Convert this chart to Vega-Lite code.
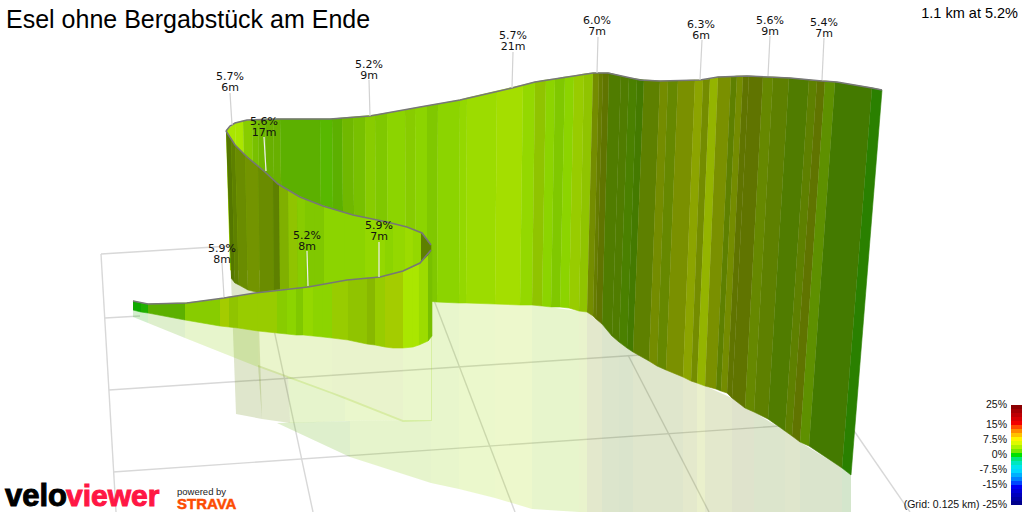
{
  "$schema": "https://vega.github.io/schema/vega-lite/v6.json",
  "width": 1024,
  "height": 512,
  "padding": 0,
  "autosize": "none",
  "background": "white",
  "config": {
    "view": {"stroke": null},
    "range": {"category": ["#507c00","#4a8000","#447a00","#2a8000","#10a800","#20b000","#5e9000","#667c00","#aae600","#a4de00","#9cdc00","#94d800","#8cd400","#88cc00","#80c800","#78c000","#70b800","#68b000","#5cb000","#58b800","#98cc00","#90c400","#88b800","#a4cc00","#94b400","#8ca400","#7a9000","#748c00","#668800","#5e8000","#607400","#557700","#739400","#6a8c00","#80b000"]}
  },
  "datasets": {
    "grid": [
      {"x":101,"y":254,"x2":230,"y2":246},
      {"x":101,"y":254,"x2":116,"y2":512},
      {"x":105,"y":318,"x2":140,"y2":316},
      {"x":109,"y":390,"x2":640,"y2":355},
      {"x":113,"y":472,"x2":780,"y2":426},
      {"x":258,"y":255,"x2":313,"y2":512},
      {"x":432,"y":295,"x2":515,"y2":512},
      {"x":628,"y":355,"x2":709,"y2":512},
      {"x":850,"y":425,"x2":910,"y2":512}
    ],
    "shadow": [
      {"id":1,"tone":"L11","x":[277,350,350,277],"y":[423,421,457,423],"o":[0,1,2,3]},
      {"id":2,"tone":"L07","x":[350,431,431,350],"y":[421,420,483,457],"o":[0,1,2,3]},
      {"id":3,"tone":"L05","x":[431,459,459,431],"y":[300,303,489,483],"o":[0,1,2,3]},
      {"id":4,"tone":"L03","x":[459,495,495,459],"y":[303,304,498,489],"o":[0,1,2,3]},
      {"id":5,"tone":"L02","x":[495,532,532,495],"y":[304,305,509,498],"o":[0,1,2,3]},
      {"id":6,"tone":"L06","x":[532,579,579,532],"y":[305,311,512,509],"o":[0,1,2,3]},
      {"id":7,"tone":"L14","x":[579,587,587,579],"y":[311,312,512,512],"o":[0,1,2,3]},
      {"id":8,"tone":"O04","x":[587,602,602,587],"y":[312,324,512,512],"o":[0,1,2,3]},
      {"id":9,"tone":"G01","x":[602,619,619,602],"y":[324,342,512,512],"o":[0,1,2,3]},
      {"id":10,"tone":"G03","x":[619,633,633,619],"y":[342,352,512,512],"o":[0,1,2,3]},
      {"id":11,"tone":"O06","x":[633,683,683,633],"y":[352,377,512,512],"o":[0,1,2,3]},
      {"id":12,"tone":"O03","x":[683,697,697,683],"y":[377,383,512,512],"o":[0,1,2,3]},
      {"id":13,"tone":"O01","x":[697,705,705,697],"y":[383,386,512,512],"o":[0,1,2,3]},
      {"id":14,"tone":"O04","x":[705,732,732,705],"y":[386,398,512,512],"o":[0,1,2,3]},
      {"id":15,"tone":"O07","x":[732,754,754,732],"y":[398,412,512,512],"o":[0,1,2,3]},
      {"id":16,"tone":"G01","x":[754,785,785,754],"y":[412,431,512,512],"o":[0,1,2,3]},
      {"id":17,"tone":"O06","x":[785,800,800,785],"y":[431,442,512,512],"o":[0,1,2,3]},
      {"id":18,"tone":"G03","x":[800,842,842,800],"y":[442,468,512,512],"o":[0,1,2,3]},
      {"id":19,"tone":"G04","x":[842,851,851,842],"y":[468,475,512,512],"o":[0,1,2,3]},
      {"id":20,"tone":"O06","x":[231,258,262,236],"y":[278,293,419,414],"o":[0,1,2,3]},
      {"id":21,"tone":"O10","x":[258,288,290,262],"y":[365,376,423,419],"o":[0,1,2,3]},
      {"id":22,"tone":"L07","x":[288,345,345,290],"y":[376,397,421,423],"o":[0,1,2,3]},
      {"id":23,"tone":"L04","x":[345,403,431,345],"y":[397,420,420,421],"o":[0,1,2,3]},
      {"id":24,"tone":"G06","x":[133,148,148,133],"y":[310,313,323,317],"o":[0,1,2,3]},
      {"id":25,"tone":"L11","x":[148,185,185,148],"y":[313,320,338,323],"o":[0,1,2,3]},
      {"id":26,"tone":"L06","x":[185,258,258,185],"y":[320,331,367,338],"o":[0,1,2,3]},
      {"id":27,"tone":"L13","x":[258,332,332,258],"y":[331,338,394,367],"o":[0,1,2,3]},
      {"id":28,"tone":"L14","x":[332,403,403,332],"y":[338,348,422,394],"o":[0,1,2,3]},
      {"id":29,"tone":"L04","x":[403,432,432,403],"y":[348,336,421,422],"o":[0,1,2,3]}
    ],
    "strips": [
      {"part":"back","id":1,"tone":"L01","x":[226,235,239,230],"y":[131,123,270,270],"o":[0,1,2,3]},
      {"part":"back","id":2,"tone":"L01","x":[235,243,246,239],"y":[123,121,270,270],"o":[0,1,2,3]},
      {"part":"back","id":3,"tone":"L06","x":[243,252,255,246],"y":[121,120,270,270],"o":[0,1,2,3]},
      {"part":"back","id":4,"tone":"L08","x":[252,258,261,255],"y":[120,120,270,270],"o":[0,1,2,3]},
      {"part":"back","id":5,"tone":"L09","x":[258,265,268,261],"y":[120,119,300,270],"o":[0,1,2,3]},
      {"part":"back","id":6,"tone":"L10","x":[265,273,276,268],"y":[119,119,300,300],"o":[0,1,2,3]},
      {"part":"back","id":7,"tone":"L10","x":[273,280,283,276],"y":[119,119,300,300],"o":[0,1,2,3]},
      {"part":"back","id":8,"tone":"L11","x":[280,320,322,283],"y":[119,119,300,300],"o":[0,1,2,3]},
      {"part":"back","id":9,"tone":"L12","x":[320,332,334,322],"y":[119,119,300,300],"o":[0,1,2,3]},
      {"part":"back","id":10,"tone":"L11","x":[332,342,344,334],"y":[119,118,300,300],"o":[0,1,2,3]},
      {"part":"back","id":11,"tone":"L09","x":[342,353,355,344],"y":[118,117,300,300],"o":[0,1,2,3]},
      {"part":"back","id":12,"tone":"L08","x":[353,365,366,355],"y":[117,116,300,300],"o":[0,1,2,3]},
      {"part":"back","id":13,"tone":"L06","x":[365,375,376,366],"y":[116,115,300,300],"o":[0,1,2,3]},
      {"part":"back","id":14,"tone":"L07","x":[375,387,388,376],"y":[115,113,300,300],"o":[0,1,2,3]},
      {"part":"back","id":15,"tone":"L05","x":[387,405,406,388],"y":[113,110,300,300],"o":[0,1,2,3]},
      {"part":"back","id":16,"tone":"L06","x":[405,415,416,406],"y":[110,108,300,300],"o":[0,1,2,3]},
      {"part":"back","id":17,"tone":"L05","x":[415,427,427,416],"y":[108,106,301,300],"o":[0,1,2,3]},
      {"part":"back","id":18,"tone":"L07","x":[427,438,437,427],"y":[106,104,302,301],"o":[0,1,2,3]},
      {"part":"back","id":19,"tone":"L05","x":[438,460,459,437],"y":[104,100,303,302],"o":[0,1,2,3]},
      {"part":"back","id":20,"tone":"L04","x":[460,467,466,459],"y":[100,98,303,303],"o":[0,1,2,3]},
      {"part":"back","id":21,"tone":"L03","x":[467,497,495,466],"y":[98,91,304,303],"o":[0,1,2,3]},
      {"part":"back","id":22,"tone":"L02","x":[497,523,520,495],"y":[91,85,305,304],"o":[0,1,2,3]},
      {"part":"back","id":23,"tone":"L04","x":[523,535,532,520],"y":[85,82,305,305],"o":[0,1,2,3]},
      {"part":"back","id":24,"tone":"L14","x":[535,546,542,532],"y":[82,80,306,305],"o":[0,1,2,3]},
      {"part":"back","id":25,"tone":"L05","x":[546,555,551,542],"y":[80,79,307,306],"o":[0,1,2,3]},
      {"part":"back","id":26,"tone":"L07","x":[555,565,560,551],"y":[79,77,307,307],"o":[0,1,2,3]},
      {"part":"back","id":27,"tone":"L05","x":[565,574,569,560],"y":[77,76,308,307],"o":[0,1,2,3]},
      {"part":"back","id":28,"tone":"L13","x":[574,584,579,569],"y":[76,74,311,308],"o":[0,1,2,3]},
      {"part":"back","id":29,"tone":"L14","x":[584,593,587,579],"y":[74,73,312,311],"o":[0,1,2,3]},
      {"part":"back","id":30,"tone":"O04","x":[593,599,593,587],"y":[73,73,316,312],"o":[0,1,2,3]},
      {"part":"back","id":31,"tone":"G08","x":[599,603,596,593],"y":[73,73,319,316],"o":[0,1,2,3]},
      {"part":"back","id":32,"tone":"O07","x":[603,609,602,596],"y":[73,73,324,319],"o":[0,1,2,3]},
      {"part":"back","id":33,"tone":"G01","x":[609,621,612,602],"y":[73,76,336,324],"o":[0,1,2,3]},
      {"part":"back","id":34,"tone":"G01","x":[621,629,619,612],"y":[76,78,342,336],"o":[0,1,2,3]},
      {"part":"back","id":35,"tone":"G02","x":[629,637,627,619],"y":[78,79,348,342],"o":[0,1,2,3]},
      {"part":"back","id":36,"tone":"G03","x":[637,644,633,627],"y":[79,80,352,348],"o":[0,1,2,3]},
      {"part":"back","id":37,"tone":"O06","x":[644,660,649,633],"y":[80,81,361,352],"o":[0,1,2,3]},
      {"part":"back","id":38,"tone":"O04","x":[660,668,657,649],"y":[81,81,366,361],"o":[0,1,2,3]},
      {"part":"back","id":39,"tone":"O05","x":[668,678,666,657],"y":[81,81,370,366],"o":[0,1,2,3]},
      {"part":"back","id":40,"tone":"O03","x":[678,695,683,666],"y":[81,80,377,370],"o":[0,1,2,3]},
      {"part":"back","id":41,"tone":"O02","x":[695,703,691,683],"y":[80,80,381,377],"o":[0,1,2,3]},
      {"part":"back","id":42,"tone":"O04","x":[703,710,697,691],"y":[80,79,383,381],"o":[0,1,2,3]},
      {"part":"back","id":43,"tone":"O01","x":[710,718,705,697],"y":[79,77,386,383],"o":[0,1,2,3]},
      {"part":"back","id":44,"tone":"O03","x":[718,731,716,705],"y":[77,77,389,386],"o":[0,1,2,3]},
      {"part":"back","id":45,"tone":"O06","x":[731,737,721,716],"y":[77,76,391,389],"o":[0,1,2,3]},
      {"part":"back","id":46,"tone":"O04","x":[737,743,727,721],"y":[76,76,393,391],"o":[0,1,2,3]},
      {"part":"back","id":47,"tone":"O07","x":[743,749,732,727],"y":[76,76,398,393],"o":[0,1,2,3]},
      {"part":"back","id":48,"tone":"O07","x":[749,763,745,732],"y":[76,77,408,398],"o":[0,1,2,3]},
      {"part":"back","id":49,"tone":"O05","x":[763,773,754,745],"y":[77,77,412,408],"o":[0,1,2,3]},
      {"part":"back","id":50,"tone":"O06","x":[773,789,768,754],"y":[77,78,419,412],"o":[0,1,2,3]},
      {"part":"back","id":51,"tone":"G01","x":[789,809,785,768],"y":[78,80,431,419],"o":[0,1,2,3]},
      {"part":"back","id":52,"tone":"O06","x":[809,817,792,785],"y":[80,81,436,431],"o":[0,1,2,3]},
      {"part":"back","id":53,"tone":"O07","x":[817,825,800,792],"y":[81,81,442,436],"o":[0,1,2,3]},
      {"part":"back","id":54,"tone":"G07","x":[825,835,809,800],"y":[81,82,446,442],"o":[0,1,2,3]},
      {"part":"back","id":55,"tone":"G03","x":[835,872,842,809],"y":[82,88,468,446],"o":[0,1,2,3]},
      {"part":"back","id":56,"tone":"G04","x":[872,882,851,842],"y":[88,90,475,468],"o":[0,1,2,3]},

      {"part":"middle","id":101,"tone":"O08","x":[226,231,235,231],"y":[131,139,283,278],"o":[0,1,2,3]},
      {"part":"middle","id":102,"tone":"O06","x":[231,235,239,235],"y":[139,145,285,283],"o":[0,1,2,3]},
      {"part":"middle","id":103,"tone":"O10","x":[235,245,248,239],"y":[145,155,290,285],"o":[0,1,2,3]},
      {"part":"middle","id":104,"tone":"O09","x":[245,258,260,248],"y":[155,166,293,290],"o":[0,1,2,3]},
      {"part":"middle","id":105,"tone":"O10","x":[258,273,274,260],"y":[166,180,293,293],"o":[0,1,2,3]},
      {"part":"middle","id":106,"tone":"O06","x":[273,279,280,274],"y":[180,185,292,293],"o":[0,1,2,3]},
      {"part":"middle","id":107,"tone":"O11","x":[279,288,289,280],"y":[185,190,290,292],"o":[0,1,2,3]},
      {"part":"middle","id":108,"tone":"L14","x":[288,297,298,289],"y":[190,195,290,290],"o":[0,1,2,3]},
      {"part":"middle","id":109,"tone":"L06","x":[297,305,305,298],"y":[195,199,289,290],"o":[0,1,2,3]},
      {"part":"middle","id":110,"tone":"L07","x":[305,315,315,305],"y":[199,203,287,289],"o":[0,1,2,3]},
      {"part":"middle","id":111,"tone":"L07","x":[315,324,324,315],"y":[203,206,285,287],"o":[0,1,2,3]},
      {"part":"middle","id":112,"tone":"L05","x":[324,345,345,324],"y":[206,213,282,285],"o":[0,1,2,3]},
      {"part":"middle","id":113,"tone":"L05","x":[345,365,365,345],"y":[213,218,280,282],"o":[0,1,2,3]},
      {"part":"middle","id":114,"tone":"L04","x":[365,385,385,365],"y":[218,222,277,280],"o":[0,1,2,3]},
      {"part":"middle","id":115,"tone":"L05","x":[385,393,393,385],"y":[222,223,275,277],"o":[0,1,2,3]},
      {"part":"middle","id":116,"tone":"L04","x":[393,405,405,393],"y":[223,226,272,275],"o":[0,1,2,3]},
      {"part":"middle","id":117,"tone":"L03","x":[405,413,413,405],"y":[226,229,268,272],"o":[0,1,2,3]},
      {"part":"middle","id":118,"tone":"L04","x":[413,421,421,413],"y":[229,233,263,268],"o":[0,1,2,3]},
      {"part":"middle","id":119,"tone":"O06","x":[421,431,431,421],"y":[233,245,252,263],"o":[0,1,2,3]},

      {"part":"front","id":201,"tone":"G05","x":[133,141,141,133],"y":[301,303,312,310],"o":[0,1,2,3]},
      {"part":"front","id":202,"tone":"G06","x":[141,148,148,141],"y":[303,304,313,312],"o":[0,1,2,3]},
      {"part":"front","id":203,"tone":"L11","x":[148,185,185,148],"y":[304,303,320,313],"o":[0,1,2,3]},
      {"part":"front","id":204,"tone":"L06","x":[185,220,220,185],"y":[303,299,326,320],"o":[0,1,2,3]},
      {"part":"front","id":205,"tone":"L16","x":[220,229,229,220],"y":[299,297,327,326],"o":[0,1,2,3]},
      {"part":"front","id":206,"tone":"L14","x":[229,238,238,229],"y":[297,296,328,327],"o":[0,1,2,3]},
      {"part":"front","id":207,"tone":"L13","x":[238,258,258,238],"y":[296,293,331,328],"o":[0,1,2,3]},
      {"part":"front","id":208,"tone":"L13","x":[258,277,277,258],"y":[293,290,333,331],"o":[0,1,2,3]},
      {"part":"front","id":209,"tone":"L06","x":[277,287,287,277],"y":[290,289,334,333],"o":[0,1,2,3]},
      {"part":"front","id":210,"tone":"L05","x":[287,296,296,287],"y":[289,288,335,334],"o":[0,1,2,3]},
      {"part":"front","id":211,"tone":"L07","x":[296,303,303,296],"y":[288,288,335,335],"o":[0,1,2,3]},
      {"part":"front","id":212,"tone":"L04","x":[303,313,313,303],"y":[288,286,336,335],"o":[0,1,2,3]},
      {"part":"front","id":213,"tone":"L05","x":[313,323,323,313],"y":[286,284,337,336],"o":[0,1,2,3]},
      {"part":"front","id":214,"tone":"L05","x":[323,332,332,323],"y":[284,283,338,337],"o":[0,1,2,3]},
      {"part":"front","id":215,"tone":"L13","x":[332,348,348,332],"y":[283,280,340,338],"o":[0,1,2,3]},
      {"part":"front","id":216,"tone":"L14","x":[348,367,367,348],"y":[280,278,344,340],"o":[0,1,2,3]},
      {"part":"front","id":217,"tone":"L15","x":[367,375,375,367],"y":[278,278,345,344],"o":[0,1,2,3]},
      {"part":"front","id":218,"tone":"L13","x":[375,385,385,375],"y":[278,276,347,345],"o":[0,1,2,3]},
      {"part":"front","id":219,"tone":"L16","x":[385,393,393,385],"y":[276,274,348,347],"o":[0,1,2,3]},
      {"part":"front","id":220,"tone":"L16","x":[393,403,403,393],"y":[274,271,348,348],"o":[0,1,2,3]},
      {"part":"front","id":221,"tone":"L01","x":[403,413,413,403],"y":[271,267,347,348],"o":[0,1,2,3]},
      {"part":"front","id":222,"tone":"L01","x":[413,419,419,413],"y":[267,264,345,347],"o":[0,1,2,3]},
      {"part":"front","id":223,"tone":"L03","x":[419,428,428,419],"y":[264,256,341,345],"o":[0,1,2,3]},
      {"part":"front","id":224,"tone":"L08","x":[428,432,432,428],"y":[256,250,336,341],"o":[0,1,2,3]}
    ],
    "ridges": [
      {"part":"back","x":226,"y":131},{"part":"back","x":230,"y":126},{"part":"back","x":235,"y":123},{"part":"back","x":247,"y":120},{"part":"back","x":277,"y":119},
      {"part":"back","x":330,"y":119},{"part":"back","x":370,"y":116},{"part":"back","x":420,"y":107},{"part":"back","x":460,"y":100},
      {"part":"back","x":512,"y":88},{"part":"back","x":535,"y":82},{"part":"back","x":593,"y":73},{"part":"back","x":608,"y":73},
      {"part":"back","x":640,"y":80},{"part":"back","x":660,"y":81},{"part":"back","x":700,"y":80},{"part":"back","x":718,"y":77},
      {"part":"back","x":747,"y":76},{"part":"back","x":790,"y":78},{"part":"back","x":822,"y":81},{"part":"back","x":837,"y":82},
      {"part":"back","x":872,"y":88},{"part":"back","x":882,"y":90},
      {"part":"middle","x":226,"y":131},{"part":"middle","x":235,"y":145},{"part":"middle","x":247,"y":157},{"part":"middle","x":265,"y":172},
      {"part":"middle","x":278,"y":184},{"part":"middle","x":300,"y":197},{"part":"middle","x":323,"y":206},{"part":"middle","x":353,"y":215},
      {"part":"middle","x":387,"y":222},{"part":"middle","x":407,"y":227},{"part":"middle","x":422,"y":233},{"part":"middle","x":431,"y":245},
      {"part":"front","x":133,"y":301},{"part":"front","x":148,"y":304},{"part":"front","x":187,"y":303},{"part":"front","x":224,"y":298},
      {"part":"front","x":255,"y":293},{"part":"front","x":308,"y":287},{"part":"front","x":347,"y":280},{"part":"front","x":380,"y":277},
      {"part":"front","x":403,"y":271},{"part":"front","x":420,"y":263},{"part":"front","x":431,"y":250}
    ],
    "leaders": [
      {"x":230,"y":93,"x2":232,"y2":125,"onWall":false},
      {"x":369,"y":80,"x2":370,"y2":116,"onWall":false},
      {"x":513,"y":52,"x2":512,"y2":88,"onWall":false},
      {"x":598,"y":37,"x2":597,"y2":73,"onWall":false},
      {"x":702,"y":40,"x2":700,"y2":80,"onWall":false},
      {"x":770,"y":36,"x2":768,"y2":76,"onWall":false},
      {"x":824,"y":38,"x2":822,"y2":80,"onWall":false},
      {"x":222,"y":263,"x2":224,"y2":297,"onWall":false},
      {"x":264,"y":137,"x2":266,"y2":171,"onWall":true},
      {"x":307,"y":251,"x2":308,"y2":286,"onWall":true},
      {"x":379,"y":242,"x2":379,"y2":277,"onWall":true}
    ],
    "labels": [
      {"text":"5.7%\n6m","x":230,"y":77},
      {"text":"5.2%\n9m","x":369,"y":65},
      {"text":"5.7%\n21m","x":513,"y":36},
      {"text":"6.0%\n7m","x":597,"y":21},
      {"text":"6.3%\n6m","x":701,"y":25},
      {"text":"5.6%\n9m","x":770,"y":21},
      {"text":"5.4%\n7m","x":824,"y":23},
      {"text":"5.6%\n17m","x":264,"y":121.5},
      {"text":"5.2%\n8m","x":307,"y":235.5},
      {"text":"5.9%\n7m","x":379,"y":226},
      {"text":"5.9%\n8m","x":222,"y":249}
    ],
    "legend": [
      {"grade":24,"left":1011,"right":1022,"top":405,"bottom":409},{"grade":22,"left":1011,"right":1022,"top":409,"bottom":413},{"grade":20,"left":1011,"right":1022,"top":413,"bottom":417},
      {"grade":18,"left":1011,"right":1022,"top":417,"bottom":421},{"grade":16,"left":1011,"right":1022,"top":421,"bottom":425},{"grade":14,"left":1011,"right":1022,"top":425,"bottom":429},
      {"grade":12,"left":1011,"right":1022,"top":429,"bottom":433},{"grade":10,"left":1011,"right":1022,"top":433,"bottom":437},{"grade":8,"left":1011,"right":1022,"top":437,"bottom":441},
      {"grade":6,"left":1011,"right":1022,"top":441,"bottom":445},{"grade":4,"left":1011,"right":1022,"top":445,"bottom":449},{"grade":2,"left":1011,"right":1022,"top":449,"bottom":453},
      {"grade":0,"left":1011,"right":1022,"top":453,"bottom":457},{"grade":-2,"left":1011,"right":1022,"top":457,"bottom":461},{"grade":-4,"left":1011,"right":1022,"top":461,"bottom":465},
      {"grade":-6,"left":1011,"right":1022,"top":465,"bottom":469},{"grade":-8,"left":1011,"right":1022,"top":469,"bottom":473},{"grade":-10,"left":1011,"right":1022,"top":473,"bottom":477},
      {"grade":-12,"left":1011,"right":1022,"top":477,"bottom":481},{"grade":-14,"left":1011,"right":1022,"top":481,"bottom":485},{"grade":-16,"left":1011,"right":1022,"top":485,"bottom":489},
      {"grade":-18,"left":1011,"right":1022,"top":489,"bottom":493},{"grade":-20,"left":1011,"right":1022,"top":493,"bottom":497},{"grade":-22,"left":1011,"right":1022,"top":497,"bottom":501},
      {"grade":-24,"left":1011,"right":1022,"top":501,"bottom":505}
    ],
    "legendText": [
      {"text":"25%","x":1007,"y":405},
      {"text":"15%","x":1007,"y":425},
      {"text":"7.5%","x":1007,"y":440},
      {"text":"0%","x":1007,"y":455},
      {"text":"-7.5%","x":1007,"y":470},
      {"text":"-15%","x":1007,"y":485},
      {"text":"(Grid: 0.125 km) -25%","x":1007,"y":505}
    ]
  },
  "encoding": {
    "x": {"field":"x","type":"quantitative","scale":{"domain":[0,1024],"nice":false,"zero":false},"axis":null},
    "y": {"field":"y","type":"quantitative","scale":{"domain":[512,0],"nice":false,"zero":false},"axis":null}
  },
  "layer": [
    {
      "data": {"name":"grid"},
      "mark": {"type":"rule","color":"#d8d8d8","strokeWidth":1.4},
      "encoding": {"x2":{"field":"x2"},"y2":{"field":"y2"}}
    },
    {
      "data": {"name":"shadow"},
      "transform": [{"flatten":["x","y","o"]}],
      "mark": {"type":"line","opacity":0.2,"strokeWidth":0},
      "encoding": {
        "fill":{"field":"tone","type":"nominal","legend":null},
        "detail":{"field":"id"},
        "order":{"field":"o","type":"quantitative"}
      }
    },
    {
      "data": {"name":"strips"},
      "transform": [{"filter":"datum.part==='back'"},{"flatten":["x","y","o"]}],
      "mark": {"type":"line","strokeWidth":0.6},
      "encoding": {
        "fill":{"field":"tone","type":"nominal","legend":null},
        "stroke":{"field":"tone","type":"nominal","legend":null},
        "detail":{"field":"id"},
        "order":{"field":"o","type":"quantitative"}
      }
    },
    {
      "data": {"name":"ridges"},
      "transform": [{"filter":"datum.part==='back'"}],
      "mark": {"type":"line","color":"#777777","strokeWidth":1.6}
    },
    {
      "data": {"name":"strips"},
      "transform": [{"filter":"datum.part==='middle'"},{"flatten":["x","y","o"]}],
      "mark": {"type":"line","strokeWidth":0.6},
      "encoding": {
        "fill":{"field":"tone","type":"nominal","legend":null},
        "stroke":{"field":"tone","type":"nominal","legend":null},
        "detail":{"field":"id"},
        "order":{"field":"o","type":"quantitative"}
      }
    },
    {
      "data": {"name":"ridges"},
      "transform": [{"filter":"datum.part==='middle'"}],
      "mark": {"type":"line","color":"#777777","strokeWidth":1.6}
    },
    {
      "data": {"name":"strips"},
      "transform": [{"filter":"datum.part==='front'"},{"flatten":["x","y","o"]}],
      "mark": {"type":"line","strokeWidth":0.6},
      "encoding": {
        "fill":{"field":"tone","type":"nominal","legend":null},
        "stroke":{"field":"tone","type":"nominal","legend":null},
        "detail":{"field":"id"},
        "order":{"field":"o","type":"quantitative"}
      }
    },
    {
      "data": {"name":"ridges"},
      "transform": [{"filter":"datum.part==='front'"}],
      "mark": {"type":"line","color":"#777777","strokeWidth":1.6}
    },
    {
      "data": {"name":"leaders"},
      "mark": {"type":"rule","strokeWidth":1.2},
      "encoding": {
        "x2":{"field":"x2"},
        "y2":{"field":"y2"},
        "stroke":{"condition":{"test":"datum.onWall","value":"#eeeeee"},"value":"#d2d2d2"}
      }
    },
    {
      "data": {"name":"labels"},
      "mark": {"type":"text","font":"DejaVu Sans","fontSize":11,"lineBreak":"\n","lineHeight":11,"baseline":"middle","align":"center","color":"#111111"},
      "encoding": {"text":{"field":"text"}}
    },
    {
      "data": {"values":[{"text":"Esel ohne Bergabstück am Ende","x":6,"y":28}]},
      "mark": {"type":"text","font":"Liberation Sans","fontSize":25,"align":"left","baseline":"alphabetic","color":"#000000"},
      "encoding": {"text":{"field":"text"}}
    },
    {
      "data": {"values":[{"text":"1.1 km at 5.2%","x":1018,"y":18}]},
      "mark": {"type":"text","font":"Liberation Sans","fontSize":14.5,"align":"right","baseline":"alphabetic","color":"#000000"},
      "encoding": {"text":{"field":"text"}}
    },
    {
      "data": {"name":"legend"},
      "mark": {"type":"rect"},
      "encoding": {
        "x":{"field":"left","type":"quantitative"},
        "x2":{"field":"right"},
        "y":{"field":"top","type":"quantitative"},
        "y2":{"field":"bottom"},
        "color":{"field":"grade","type":"quantitative","legend":null,"scale":{"domain":[-25,-15,-7.5,0,7.5,15,25],"range":["#000080","#0000ff","#00e0ff","#00e000","#ffff00","#ff0000","#800000"]}}
      }
    },
    {
      "data": {"name":"legendText"},
      "mark": {"type":"text","font":"Liberation Sans","fontSize":10.5,"align":"right","baseline":"middle","color":"#111111"},
      "encoding": {"text":{"field":"text"}}
    },
    {
      "data": {"values":[{"text":"velo","x":5,"y":506}]},
      "mark": {"type":"text","font":"Liberation Sans","fontWeight":"bold","fontSize":31,"align":"left","baseline":"alphabetic","color":"#000000","stroke":"#000000","strokeWidth":1},
      "encoding": {"text":{"field":"text"}}
    },
    {
      "data": {"values":[{"text":"viewer","x":66,"y":506}]},
      "mark": {"type":"text","font":"Liberation Sans","fontWeight":"bold","fontSize":30,"align":"left","baseline":"alphabetic","color":"#ff1744","stroke":"#ff1744","strokeWidth":1},
      "encoding": {"text":{"field":"text"}}
    },
    {
      "data": {"values":[{"text":"powered by","x":177,"y":495}]},
      "mark": {"type":"text","font":"Liberation Sans","fontSize":9.5,"align":"left","baseline":"alphabetic","color":"#222222"},
      "encoding": {"text":{"field":"text"}}
    },
    {
      "data": {"values":[{"text":"STRAVA","x":177,"y":509}]},
      "mark": {"type":"text","font":"Liberation Sans","fontWeight":"bold","fontSize":15,"align":"left","baseline":"alphabetic","color":"#fc4c02","stroke":"#fc4c02","strokeWidth":0.5},
      "encoding": {"text":{"field":"text"}}
    }
  ]
}
